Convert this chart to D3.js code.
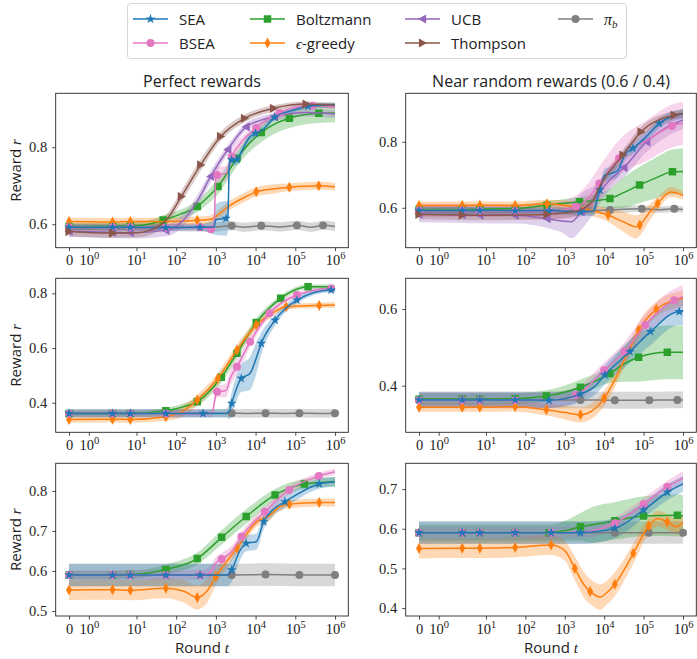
<!DOCTYPE html>
<html>
<head>
<meta charset="utf-8">
<script src="https://cdn.jsdelivr.net/npm/d3@7"></script>
<style>
  body { margin: 0; background: #fff; }
</style>
</head>
<body>
<svg id="chart" width="697" height="659"></svg>
<script>
// each point: [round t, mean reward, half band width, has marker]
const xTicks = [0, 1, 10, 100, 1e3, 1e4, 1e5, 1e6];

// --- Perfect rewards, row 1
const yDomain_tl = [0.539, 0.94];
const yTicks_tl = [0.6, 0.8];
const sea_tl = [[0,0.592,0.008,1],[2.5,0.592,0.008,1],[7,0.592,0.008,1],[55,0.591,0.008,1],[400,0.592,0.008,1],[900,0.593,0.02,0],[1000,0.612,0.04,0],[1800,0.615,0.045,1],[2000,0.62,0.04,0],[2200,0.765,0.02,0],[2500,0.767,0.015,1],[3400,0.768,0.015,1],[4500,0.79,0.012,0],[7000,0.825,0.012,0],[10000,0.836,0.01,1],[15000,0.845,0.01,0],[30000,0.878,0.008,1],[80000,0.895,0.006,0],[2.1e5,0.906,0.006,1],[1e6,0.91,0.006,0]];
const bsea_tl = [[0,0.592,0.008,1],[2.5,0.592,0.008,1],[7,0.592,0.008,1],[55,0.591,0.008,1],[400,0.592,0.008,1],[760,0.587,0.01,1],[900,0.6,0.02,0],[1000,0.72,0.02,0],[1070,0.728,0.02,1],[1800,0.732,0.02,0],[2500,0.775,0.02,1],[5000,0.82,0.012,0],[10400,0.85,0.01,1],[40000,0.889,0.008,1],[2.75e5,0.908,0.007,1],[1e6,0.905,0.007,0]];
const boltz_tl = [[0,0.594,0.008,1],[2.5,0.595,0.008,1],[7,0.596,0.008,1],[20,0.6,0.01,0],[47,0.611,0.012,1],[120,0.625,0.012,0],[340,0.646,0.015,1],[700,0.675,0.018,0],[1130,0.698,0.02,1],[2000,0.735,0.02,0],[3400,0.771,0.02,1],[7000,0.81,0.022,0],[13900,0.838,0.025,1],[30000,0.86,0.025,0],[71000,0.875,0.025,1],[3.9e5,0.888,0.025,1],[1e6,0.889,0.025,0]];
const eps_tl = [[0,0.607,0.01,1],[2.5,0.606,0.01,1],[7,0.607,0.01,1],[55,0.607,0.01,0],[340,0.61,0.01,1],[700,0.612,0.01,0],[1000,0.62,0.012,0],[2000,0.645,0.012,0],[5800,0.672,0.012,0],[10400,0.684,0.012,1],[30000,0.692,0.012,0],[71000,0.696,0.01,1],[3.9e5,0.7,0.01,1],[1e6,0.697,0.01,0]];
const ucb_tl = [[0,0.582,0.015,1],[2.5,0.579,0.015,1],[7,0.578,0.015,1],[55,0.584,0.015,1],[150,0.61,0.015,0],[340,0.66,0.015,0],[740,0.724,0.015,1],[2000,0.794,0.012,1],[5800,0.853,0.01,1],[30000,0.879,0.01,1],[2e5,0.89,0.01,0],[1e6,0.886,0.01,0]];
const thom_tl = [[0,0.581,0.012,1],[2.5,0.577,0.012,1],[10,0.578,0.012,0],[30,0.59,0.012,0],[60,0.615,0.013,0],[135,0.672,0.015,1],[415,0.754,0.015,1],[1320,0.828,0.012,1],[5270,0.875,0.01,1],[28300,0.901,0.008,1],[1.87e5,0.912,0.007,1],[1e6,0.908,0.007,0]];
const pib_tl = [[0,0.593,0.01,0],[100,0.592,0.01,0],[1000,0.593,0.012,0],[2500,0.596,0.012,1],[5000,0.592,0.012,0],[13900,0.596,0.012,1],[40000,0.593,0.012,0],[1.1e5,0.597,0.012,1],[2.5e5,0.592,0.012,0],[5e5,0.597,0.012,1],[1e6,0.594,0.012,0]];

// --- Near random rewards, row 1
const yDomain_tr = [0.479, 0.947];
const yTicks_tr = [0.6, 0.8];
const sea_tr = [[0,0.592,0.01,1],[2.5,0.592,0.01,1],[7,0.592,0.01,1],[55,0.591,0.01,1],[400,0.591,0.01,1],[2500,0.588,0.012,1],[5500,0.59,0.015,0],[6400,0.62,0.02,0],[7800,0.654,0.02,1],[10400,0.699,0.02,0],[16000,0.705,0.02,0],[22400,0.714,0.02,0],[33000,0.76,0.018,0],[53500,0.78,0.018,1],[1.16e5,0.815,0.016,0],[2.5e5,0.856,0.015,1],[1e6,0.885,0.015,0]];
const bsea_tr = [[0,0.592,0.02,1],[2.5,0.592,0.02,1],[7,0.591,0.02,1],[55,0.59,0.02,1],[400,0.589,0.025,1],[1950,0.603,0.035,1],[4000,0.63,0.045,0],[7500,0.674,0.05,1],[23800,0.75,0.055,1],[1.26e5,0.805,0.062,0],[5.2e5,0.848,0.065,1],[1e6,0.856,0.065,0]];
const boltz_tr = [[0,0.595,0.012,1],[2.5,0.595,0.012,1],[7,0.596,0.012,1],[55,0.598,0.012,1],[355,0.608,0.012,1],[2350,0.618,0.015,1],[6000,0.622,0.02,0],[14000,0.628,0.03,1],[30000,0.645,0.045,0],[79000,0.669,0.055,1],[2e5,0.69,0.062,0],[5.4e5,0.709,0.068,1],[1e6,0.71,0.07,0]];
const eps_tr = [[0,0.607,0.012,1],[2.5,0.607,0.012,1],[7,0.608,0.012,1],[55,0.607,0.012,1],[355,0.612,0.012,1],[1000,0.607,0.015,0],[2500,0.6,0.015,0],[5000,0.592,0.018,0],[12600,0.578,0.02,1],[30000,0.558,0.03,0],[65000,0.542,0.035,0],[80000,0.548,0.033,1],[1.4e5,0.585,0.025,0],[2.27e5,0.613,0.02,1],[4.9e5,0.648,0.015,0],[1e6,0.638,0.012,0]];
const ucb_tr = [[0,0.581,0.025,1],[2.5,0.579,0.025,1],[7,0.578,0.025,1],[55,0.577,0.025,1],[355,0.567,0.028,1],[840,0.56,0.035,0],[1500,0.558,0.05,0],[2600,0.588,0.055,1],[6000,0.63,0.04,0],[12600,0.679,0.03,0],[31700,0.722,0.03,1],[1.2e5,0.8,0.03,1],[4e5,0.845,0.028,0],[1e6,0.866,0.028,0]];
const thom_tr = [[0,0.58,0.015,1],[2.5,0.578,0.015,1],[7,0.577,0.015,0],[55,0.578,0.015,0],[355,0.58,0.015,1],[2000,0.59,0.015,0],[5000,0.62,0.015,0],[8000,0.669,0.015,0],[30000,0.76,0.015,1],[86000,0.83,0.015,1],[6e5,0.881,0.012,1],[1e6,0.886,0.012,0]];
const pib_tr = [[0,0.592,0.01,0],[100,0.592,0.01,0],[1000,0.593,0.01,0],[5000,0.592,0.01,0],[14000,0.593,0.01,1],[40000,0.596,0.01,0],[90000,0.597,0.01,1],[2.5e5,0.594,0.01,0],[6e5,0.597,0.01,1],[1e6,0.595,0.01,0]];

// --- Perfect rewards, row 2
const yDomain_ml = [0.292, 0.855];
const yTicks_ml = [0.4, 0.6, 0.8];
const sea_ml = [[0,0.361,0.015,1],[2.5,0.361,0.015,1],[7,0.361,0.015,1],[55,0.361,0.015,1],[474,0.361,0.015,1],[1800,0.361,0.015,0],[2200,0.37,0.03,0],[2500,0.398,0.04,1],[4360,0.489,0.05,1],[7200,0.507,0.06,0],[10000,0.556,0.06,0],[13900,0.617,0.04,1],[31000,0.702,0.02,1],[1.1e5,0.775,0.012,1],[8e5,0.812,0.008,1],[1e6,0.812,0.008,0]];
const bsea_ml = [[0,0.361,0.012,1],[2.5,0.361,0.012,1],[7,0.361,0.012,1],[55,0.361,0.012,1],[500,0.36,0.012,0],[800,0.362,0.015,0],[1000,0.43,0.02,0],[1070,0.44,0.02,1],[1800,0.445,0.025,0],[2300,0.49,0.03,0],[3400,0.532,0.025,1],[7300,0.623,0.02,1],[22400,0.727,0.012,1],[1.1e5,0.794,0.01,1],[8e5,0.818,0.008,1],[1e6,0.818,0.008,0]];
const boltz_ml = [[0,0.361,0.01,1],[2.5,0.361,0.01,1],[7,0.361,0.01,1],[55,0.371,0.01,1],[150,0.385,0.012,0],[340,0.404,0.015,1],[1370,0.493,0.02,1],[3400,0.581,0.02,1],[10400,0.693,0.015,1],[43000,0.782,0.01,1],[2.1e5,0.824,0.008,1],[1e6,0.824,0.008,0]];
const eps_ml = [[0,0.339,0.012,1],[2.5,0.34,0.012,1],[7,0.339,0.012,1],[55,0.349,0.015,1],[150,0.37,0.02,0],[340,0.41,0.02,1],[1120,0.489,0.02,1],[3400,0.593,0.02,1],[10400,0.684,0.015,1],[25000,0.725,0.012,0],[59000,0.751,0.01,1],[4e5,0.756,0.01,1],[1e6,0.757,0.01,0]];
const pib_ml = [[0,0.362,0.015,0],[1000,0.362,0.015,0],[2500,0.362,0.016,1],[6000,0.361,0.016,0],[17800,0.362,0.016,1],[50000,0.361,0.016,0],[1.27e5,0.362,0.016,1],[4e5,0.361,0.016,0],[1e6,0.362,0.016,1]];

// --- Near random rewards, row 2
const yDomain_mr = [0.2785, 0.68];
const yTicks_mr = [0.4, 0.6];
const sea_mr = [[0,0.363,0.02,1],[2.5,0.363,0.02,1],[7,0.363,0.02,1],[55,0.363,0.02,1],[400,0.362,0.02,1],[2500,0.378,0.02,1],[6000,0.4,0.022,0],[10400,0.428,0.025,1],[45000,0.489,0.03,1],[1.5e5,0.541,0.035,1],[8e5,0.593,0.035,1],[1e6,0.593,0.035,0]];
const bsea_mr = [[0,0.362,0.02,1],[2.5,0.362,0.02,1],[7,0.362,0.02,1],[55,0.362,0.02,1],[400,0.362,0.02,0],[1950,0.376,0.02,1],[10000,0.441,0.02,1],[33000,0.489,0.025,1],[1.1e5,0.558,0.028,1],[6e5,0.623,0.03,1],[1e6,0.632,0.03,0]];
const boltz_mr = [[0,0.365,0.015,1],[2.5,0.365,0.015,1],[7,0.365,0.015,1],[55,0.366,0.015,1],[340,0.373,0.015,1],[2500,0.396,0.02,1],[13900,0.432,0.025,1],[30000,0.455,0.045,0],[75000,0.474,0.063,1],[4e5,0.487,0.07,1],[1e6,0.487,0.07,0]];
const eps_mr = [[0,0.344,0.012,1],[2.5,0.344,0.012,1],[7,0.344,0.012,1],[55,0.345,0.012,1],[340,0.337,0.015,1],[1000,0.33,0.018,0],[2500,0.324,0.02,1],[5000,0.335,0.02,0],[10000,0.367,0.02,1],[18600,0.415,0.02,0],[27000,0.45,0.02,0],[45000,0.497,0.02,0],[75000,0.545,0.02,1],[2.1e5,0.599,0.02,1],[1e6,0.628,0.02,0]];
const pib_mr = [[0,0.363,0.022,0],[1000,0.363,0.022,0],[2500,0.363,0.022,1],[18600,0.362,0.022,1],[1.4e5,0.362,0.022,1],[4e5,0.363,0.022,0],[7.2e5,0.363,0.022,1],[1e6,0.363,0.022,0]];

// --- Perfect rewards, row 3
const yDomain_bl = [0.4875, 0.869];
const yTicks_bl = [0.5, 0.6, 0.7, 0.8];
const sea_bl = [[0,0.59,0.028,1],[2.5,0.59,0.028,1],[7,0.59,0.028,1],[55,0.59,0.028,1],[400,0.59,0.028,1],[2000,0.59,0.028,0],[2500,0.6025,0.03,1],[4000,0.65,0.025,0],[5800,0.669,0.02,1],[10400,0.673,0.02,0],[16000,0.723,0.018,1],[27000,0.7525,0.015,0],[55000,0.773,0.015,1],[4e5,0.8175,0.012,1],[1e6,0.823,0.012,0]];
const bsea_bl = [[0,0.59,0.012,1],[2.5,0.59,0.012,1],[7,0.59,0.012,1],[55,0.59,0.012,1],[400,0.59,0.012,1],[700,0.595,0.015,0],[1000,0.62,0.015,0],[1400,0.63,0.015,1],[2500,0.648,0.015,0],[4400,0.686,0.012,1],[17000,0.748,0.012,1],[70000,0.8025,0.01,1],[3.9e5,0.8375,0.008,1],[1e6,0.848,0.008,0]];
const boltz_bl = [[0,0.59,0.01,1],[2.5,0.59,0.01,1],[7,0.591,0.01,1],[20,0.595,0.01,0],[55,0.604,0.012,1],[340,0.631,0.015,1],[1400,0.684,0.018,1],[5800,0.736,0.018,1],[31000,0.79,0.015,1],[1.7e5,0.8175,0.012,1],[1e6,0.823,0.012,0]];
const eps_bl = [[0,0.5525,0.025,1],[2.5,0.553,0.025,1],[7,0.552,0.025,1],[55,0.557,0.025,1],[150,0.55,0.028,0],[340,0.534,0.03,1],[600,0.55,0.03,0],[1000,0.586,0.02,1],[3400,0.657,0.015,1],[12000,0.727,0.012,0],[20000,0.735,0.012,0],[40000,0.76,0.01,0],[71000,0.767,0.01,1],[4e5,0.771,0.01,1],[1e6,0.771,0.01,0]];
const pib_bl = [[0,0.59,0.028,0],[1000,0.59,0.028,0],[2500,0.59,0.028,1],[17800,0.591,0.028,1],[1.27e5,0.59,0.028,1],[1e6,0.59,0.028,1]];

// --- Near random rewards, row 3
const yDomain_br = [0.38, 0.765];
const yTicks_br = [0.4, 0.5, 0.6, 0.7];
const sea_br = [[0,0.59,0.028,1],[2.5,0.59,0.028,1],[7,0.59,0.028,1],[55,0.59,0.028,1],[450,0.59,0.028,1],[2500,0.59,0.028,1],[18600,0.601,0.025,1],[1e5,0.647,0.02,1],[4e5,0.692,0.02,1],[1e6,0.713,0.02,0]];
const bsea_br = [[0,0.59,0.015,1],[2.5,0.59,0.015,1],[7,0.59,0.015,1],[55,0.59,0.015,1],[450,0.59,0.015,1],[2500,0.591,0.015,0],[18600,0.614,0.015,1],[1e5,0.662,0.015,1],[4e5,0.706,0.015,1],[1e6,0.7275,0.018,0]];
const boltz_br = [[0,0.59,0.02,1],[2.5,0.59,0.02,1],[7,0.59,0.02,1],[55,0.59,0.02,1],[400,0.59,0.02,1],[1000,0.595,0.025,0],[2500,0.605,0.035,1],[5000,0.61,0.045,0],[18600,0.62,0.047,1],[1e5,0.632,0.05,1],[7.2e5,0.634,0.053,1],[1e6,0.632,0.053,0]];
const eps_br = [[0,0.55,0.025,1],[2.5,0.551,0.025,1],[7,0.551,0.025,1],[55,0.553,0.025,1],[450,0.559,0.025,1],[1000,0.545,0.025,0],[1800,0.5,0.03,1],[3000,0.46,0.032,0],[4400,0.442,0.032,1],[8000,0.428,0.032,0],[12000,0.44,0.03,0],[18600,0.46,0.03,1],[55000,0.538,0.025,1],[1.35e5,0.607,0.02,1],[2.3e5,0.626,0.02,0],[4e5,0.617,0.02,1],[7e5,0.605,0.02,0],[1e6,0.617,0.02,0]];
const pib_br = [[0,0.59,0.028,0],[2500,0.59,0.028,0],[18600,0.59,0.028,1],[1.35e5,0.59,0.028,1],[1e6,0.59,0.028,1]];

const style = {
  "SEA": { color: "#1f77b4", marker: "star" },
  "BSEA": { color: "#e377c2", marker: "circle" },
  "Boltzmann": { color: "#2ca02c", marker: "square" },
  "eps": { color: "#ff7f0e", marker: "thin_diamond" },
  "UCB": { color: "#9467bd", marker: "tri_left" },
  "Thompson": { color: "#8c564b", marker: "tri_right" },
  "pib": { color: "#7f7f7f", marker: "circle" },
};

const panels = [
  { row: 0, col: 0, y: yDomain_tl, ticks: yTicks_tl, series: [["pib", pib_tl], ["Boltzmann", boltz_tl], ["eps", eps_tl], ["UCB", ucb_tl], ["BSEA", bsea_tl], ["SEA", sea_tl], ["Thompson", thom_tl]] },
  { row: 0, col: 1, y: yDomain_tr, ticks: yTicks_tr, series: [["pib", pib_tr], ["Boltzmann", boltz_tr], ["eps", eps_tr], ["UCB", ucb_tr], ["BSEA", bsea_tr], ["SEA", sea_tr], ["Thompson", thom_tr]] },
  { row: 1, col: 0, y: yDomain_ml, ticks: yTicks_ml, series: [["pib", pib_ml], ["Boltzmann", boltz_ml], ["eps", eps_ml], ["BSEA", bsea_ml], ["SEA", sea_ml]] },
  { row: 1, col: 1, y: yDomain_mr, ticks: yTicks_mr, series: [["pib", pib_mr], ["Boltzmann", boltz_mr], ["eps", eps_mr], ["BSEA", bsea_mr], ["SEA", sea_mr]] },
  { row: 2, col: 0, y: yDomain_bl, ticks: yTicks_bl, series: [["pib", pib_bl], ["Boltzmann", boltz_bl], ["eps", eps_bl], ["BSEA", bsea_bl], ["SEA", sea_bl]] },
  { row: 2, col: 1, y: yDomain_br, ticks: yTicks_br, series: [["pib", pib_br], ["Boltzmann", boltz_br], ["eps", eps_br], ["BSEA", bsea_br], ["SEA", sea_br]] },
];

const SANS = "'Open Sans', Lato, sans-serif";
const SERIF = "'Liberation Serif', 'DejaVu Serif', serif";

// matplotlib-like symlog with linthresh 2
const LT = 2;
const symlog = t => (t <= LT ? t / LT : 1 + Math.log10(t / LT));
const uMax = symlog(1e6);

const cols = [[55.7, 348.3], [405.7, 696.3]];
const rows = [[93.3, 247.7], [278.3, 432.3], [463.3, 616]];

function markerPath(kind) {
  switch (kind) {
    case "star": return d3.symbol(d3.symbolStar, 30)();
    case "circle": return d3.symbol(d3.symbolCircle, 50)();
    case "square": return d3.symbol(d3.symbolSquare, 56)();
    case "thin_diamond": return "M0,-5.5L3,0L0,5.5L-3,0Z";
    case "tri_left": return "M-4.6,0L3.6,-4.6L3.6,4.6Z";
    case "tri_right": return "M4.6,0L-3.6,-4.6L-3.6,4.6Z";
  }
}

const svg = d3.select("#chart");
const defs = svg.append("defs");

panels.forEach((p, pi) => {
  const [x0, x1] = cols[p.col];
  const [y0, y1] = rows[p.row];
  const x = d3.scaleLinear().domain([0, uMax]).range([x0 + 13.3, x1 - 13.3]);
  const y = d3.scaleLinear().domain(p.y).range([y1, y0]);
  const fx = d => x(symlog(d[0]));

  defs.append("clipPath").attr("id", "clip" + pi)
    .append("rect").attr("x", x0).attr("y", y0).attr("width", x1 - x0).attr("height", y1 - y0);

  const g = svg.append("g");
  const plot = g.append("g").attr("clip-path", `url(#clip${pi})`);

  const line = d3.line().x(fx).y(d => y(d[1])).curve(d3.curveMonotoneX);
  const area = d3.area().x(fx).y0(d => y(d[1] - d[2])).y1(d => y(d[1] + d[2])).curve(d3.curveMonotoneX);

  p.series.forEach(([name, data]) => {
    plot.append("path").attr("d", area(data))
      .attr("fill", style[name].color).attr("fill-opacity", 0.3).attr("stroke", "none");
  });
  p.series.forEach(([name, data]) => {
    plot.append("path").attr("d", line(data))
      .attr("fill", "none").attr("stroke", style[name].color).attr("stroke-width", 1.5);
    plot.selectAll(null).data(data.filter(d => d[3])).join("path")
      .attr("d", markerPath(style[name].marker))
      .attr("transform", d => `translate(${fx(d)},${y(d[1])})`)
      .attr("fill", style[name].color);
  });

  // x axis
  const ax = g.append("g").attr("transform", `translate(0,${y1})`)
    .call(d3.axisBottom(x).tickValues(xTicks.map(symlog)).tickSize(3.5).tickSizeOuter(0).tickPadding(4).tickFormat(""));
  ax.select(".domain").remove();
  ax.selectAll(".tick line").attr("stroke", "#222").attr("stroke-width", 0.8);
  ax.selectAll(".tick text").each(function (_, i) {
    const t = d3.select(this)
      .attr("font-family", SERIF).attr("font-size", 14.5).attr("fill", "#222");
    const v = xTicks[i];
    if (v === 0) { t.text("0"); return; }
    t.append("tspan").text("10");
    t.append("tspan").attr("dy", -6).attr("font-size", 10.5).text(Math.round(Math.log10(v)));
  });

  // y axis
  const ay = g.append("g").attr("transform", `translate(${x0},0)`)
    .call(d3.axisLeft(y).tickValues(p.ticks).tickSize(3.5).tickSizeOuter(0).tickPadding(5).tickFormat(d3.format(".1f")));
  ay.select(".domain").remove();
  ay.selectAll(".tick line").attr("stroke", "#222").attr("stroke-width", 0.8);
  ay.selectAll(".tick text").attr("font-family", SERIF).attr("font-size", 14.5).attr("fill", "#222");

  g.append("rect").attr("x", x0).attr("y", y0).attr("width", x1 - x0).attr("height", y1 - y0)
    .attr("fill", "none").attr("stroke", "#262626").attr("stroke-width", 0.9);

  if (p.col === 0) {
    const cy = (y0 + y1) / 2;
    const lab = g.append("text").attr("transform", `translate(21,${cy}) rotate(-90)`)
      .attr("text-anchor", "middle").attr("font-family", SANS).attr("font-size", 15).attr("fill", "#222");
    lab.append("tspan").text("Reward ");
    lab.append("tspan").attr("font-family", SERIF).attr("font-style", "italic").text("r");
  }
  if (p.row === 2) {
    const lab = g.append("text").attr("x", (x0 + x1) / 2).attr("y", 653)
      .attr("text-anchor", "middle").attr("font-family", SANS).attr("font-size", 15).attr("fill", "#222");
    lab.append("tspan").text("Round ");
    lab.append("tspan").attr("font-family", SERIF).attr("font-style", "italic").text("t");
  }
  if (p.row === 0) {
    g.append("text").attr("x", (x0 + x1) / 2).attr("y", 87)
      .attr("text-anchor", "middle").attr("font-family", SANS).attr("font-size", 16).attr("fill", "#222")
      .text(p.col === 0 ? "Perfect rewards" : "Near random rewards (0.6 / 0.4)");
  }
});

// legend
const legendOrder = [["SEA", 0, 0], ["BSEA", 0, 1], ["Boltzmann", 1, 0], ["eps", 1, 1], ["UCB", 2, 0], ["Thompson", 2, 1], ["pib", 3, 0]];
const legendColX = [133, 250, 405, 558];
const legendRowY = [19, 43];
const lg = svg.append("g");
lg.append("rect").attr("x", 127.5).attr("y", 3.5).attr("width", 499).attr("height", 55).attr("rx", 3)
  .attr("fill", "#fff").attr("stroke", "#d6d6d6").attr("stroke-width", 1);
legendOrder.forEach(([name, c, r]) => {
  const lx = legendColX[c], ly = legendRowY[r];
  lg.append("line").attr("x1", lx).attr("x2", lx + 35).attr("y1", ly).attr("y2", ly)
    .attr("stroke", style[name].color).attr("stroke-width", 1.5);
  lg.append("path").attr("d", markerPath(style[name].marker))
    .attr("transform", `translate(${lx + 17.5},${ly})`).attr("fill", style[name].color);
  const t = lg.append("text").attr("x", lx + 46).attr("y", ly + 5.5)
    .attr("font-family", SANS).attr("font-size", 15).attr("fill", "#222");
  if (name === "eps") {
    t.append("tspan").attr("font-family", SERIF).attr("font-style", "italic").text("ϵ");
    t.append("tspan").text("-greedy");
  } else if (name === "pib") {
    t.append("tspan").attr("font-family", SERIF).attr("font-style", "italic").attr("font-size", 16).text("π");
    t.append("tspan").attr("font-family", SERIF).attr("font-style", "italic").attr("font-size", 11).attr("dy", 3).text("b");
  } else {
    t.text(name);
  }
});
</script>
</body>
</html>
